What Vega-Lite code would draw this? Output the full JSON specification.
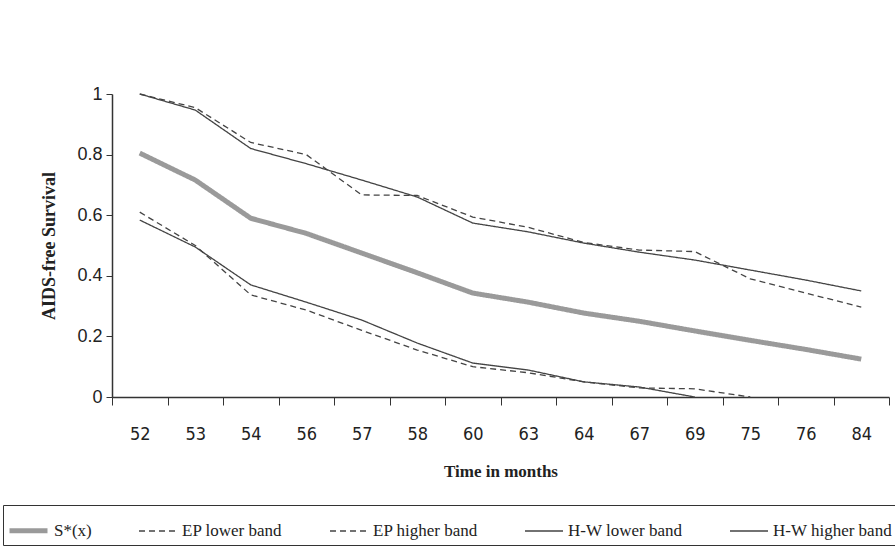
{
  "$schema": "https://vega.github.io/schema/vega-lite/v6.json",
  "autosize": "none",
  "width": 777,
  "height": 303,
  "padding": {"left": 112, "top": 94, "right": 6, "bottom": 163},
  "background": "white",
  "datasets": {
    "rows": [
      {"t": "52", "series": "S*(x)", "v": 0.805},
      {"t": "53", "series": "S*(x)", "v": 0.716},
      {"t": "54", "series": "S*(x)", "v": 0.59},
      {"t": "56", "series": "S*(x)", "v": 0.54},
      {"t": "57", "series": "S*(x)", "v": 0.475},
      {"t": "58", "series": "S*(x)", "v": 0.41},
      {"t": "60", "series": "S*(x)", "v": 0.343},
      {"t": "63", "series": "S*(x)", "v": 0.313},
      {"t": "64", "series": "S*(x)", "v": 0.277},
      {"t": "67", "series": "S*(x)", "v": 0.25},
      {"t": "69", "series": "S*(x)", "v": 0.218},
      {"t": "75", "series": "S*(x)", "v": 0.187},
      {"t": "76", "series": "S*(x)", "v": 0.157},
      {"t": "84", "series": "S*(x)", "v": 0.125},
      {"t": "52", "series": "EP lower band", "v": 0.61},
      {"t": "53", "series": "EP lower band", "v": 0.5},
      {"t": "54", "series": "EP lower band", "v": 0.337},
      {"t": "56", "series": "EP lower band", "v": 0.287},
      {"t": "57", "series": "EP lower band", "v": 0.22},
      {"t": "58", "series": "EP lower band", "v": 0.155},
      {"t": "60", "series": "EP lower band", "v": 0.1},
      {"t": "63", "series": "EP lower band", "v": 0.08},
      {"t": "64", "series": "EP lower band", "v": 0.05},
      {"t": "67", "series": "EP lower band", "v": 0.03},
      {"t": "69", "series": "EP lower band", "v": 0.027},
      {"t": "75", "series": "EP lower band", "v": 0.0},
      {"t": "52", "series": "EP higher band", "v": 1.0},
      {"t": "53", "series": "EP higher band", "v": 0.955},
      {"t": "54", "series": "EP higher band", "v": 0.84},
      {"t": "56", "series": "EP higher band", "v": 0.8},
      {"t": "57", "series": "EP higher band", "v": 0.667},
      {"t": "58", "series": "EP higher band", "v": 0.665},
      {"t": "60", "series": "EP higher band", "v": 0.594},
      {"t": "63", "series": "EP higher band", "v": 0.56},
      {"t": "64", "series": "EP higher band", "v": 0.51},
      {"t": "67", "series": "EP higher band", "v": 0.485},
      {"t": "69", "series": "EP higher band", "v": 0.48},
      {"t": "75", "series": "EP higher band", "v": 0.39},
      {"t": "76", "series": "EP higher band", "v": 0.343},
      {"t": "84", "series": "EP higher band", "v": 0.297},
      {"t": "52", "series": "H-W lower band", "v": 0.584},
      {"t": "53", "series": "H-W lower band", "v": 0.495},
      {"t": "54", "series": "H-W lower band", "v": 0.37},
      {"t": "56", "series": "H-W lower band", "v": 0.313},
      {"t": "57", "series": "H-W lower band", "v": 0.254},
      {"t": "58", "series": "H-W lower band", "v": 0.178},
      {"t": "60", "series": "H-W lower band", "v": 0.112},
      {"t": "63", "series": "H-W lower band", "v": 0.089},
      {"t": "64", "series": "H-W lower band", "v": 0.05},
      {"t": "67", "series": "H-W lower band", "v": 0.033},
      {"t": "69", "series": "H-W lower band", "v": 0.0},
      {"t": "52", "series": "H-W higher band", "v": 1.0},
      {"t": "53", "series": "H-W higher band", "v": 0.947},
      {"t": "54", "series": "H-W higher band", "v": 0.82},
      {"t": "56", "series": "H-W higher band", "v": 0.77},
      {"t": "57", "series": "H-W higher band", "v": 0.716},
      {"t": "58", "series": "H-W higher band", "v": 0.66},
      {"t": "60", "series": "H-W higher band", "v": 0.574},
      {"t": "63", "series": "H-W higher band", "v": 0.545},
      {"t": "64", "series": "H-W higher band", "v": 0.508},
      {"t": "67", "series": "H-W higher band", "v": 0.478},
      {"t": "69", "series": "H-W higher band", "v": 0.452},
      {"t": "75", "series": "H-W higher band", "v": 0.419},
      {"t": "76", "series": "H-W higher band", "v": 0.386},
      {"t": "84", "series": "H-W higher band", "v": 0.35}
    ]
  },
  "data": {"name": "rows"},
  "mark": {"type": "line", "interpolate": "linear"},
  "encoding": {
    "x": {
      "field": "t",
      "type": "ordinal",
      "sort": ["52","53","54","56","57","58","60","63","64","67","69","75","76","84"],
      "scale": {"type": "band", "paddingInner": 0, "paddingOuter": 0},
      "axis": {
        "title": "Time in months",
        "titleFont": "Liberation Serif",
        "titleFontSize": 17,
        "titleFontWeight": "bold",
        "titleColor": "#222",
        "titlePadding": 20,
        "labelFont": "Liberation Sans Narrow, DejaVu Sans Condensed, Liberation Sans",
        "labelFontSize": 18,
        "labelColor": "#222",
        "labelAngle": 0,
        "labelPadding": 20,
        "tickBand": "extent",
        "tickSize": 8,
        "tickColor": "#333",
        "domainColor": "#333",
        "domainWidth": 1.5,
        "grid": false
      }
    },
    "y": {
      "field": "v",
      "type": "quantitative",
      "scale": {"domain": [0, 1], "nice": false},
      "axis": {
        "title": "AIDS-free Survival",
        "titleFont": "Liberation Serif",
        "titleFontSize": 18,
        "titleFontWeight": "bold",
        "titleColor": "#222",
        "titlePadding": 18,
        "values": [0, 0.2, 0.4, 0.6, 0.8, 1],
        "labelExpr": "'' + datum.value",
        "labelFont": "Liberation Sans",
        "labelFontSize": 18,
        "labelColor": "#222",
        "labelPadding": 4,
        "tickSize": 6,
        "tickColor": "#333",
        "domainColor": "#333",
        "domainWidth": 1.5,
        "grid": false
      }
    },
    "color": {
      "field": "series",
      "type": "nominal",
      "sort": ["S*(x)", "EP lower band", "EP higher band", "H-W lower band", "H-W higher band"],
      "scale": {
        "domain": ["S*(x)", "EP lower band", "EP higher band", "H-W lower band", "H-W higher band"],
        "range": ["#9a9a9a", "#444444", "#444444", "#444444", "#444444"]
      },
      "legend": {
        "title": null,
        "orient": "none",
        "legendX": -109,
        "legendY": 411,
        "direction": "horizontal",
        "strokeColor": "#333",
        "padding": 4,
        "columnPadding": 44,
        "labelFont": "Liberation Serif",
        "labelFontSize": 17,
        "labelColor": "#222",
        "labelOffset": 4,
        "symbolType": "stroke",
        "symbolSize": 1444
      }
    },
    "strokeDash": {
      "field": "series",
      "type": "nominal",
      "sort": ["S*(x)", "EP lower band", "EP higher band", "H-W lower band", "H-W higher band"],
      "scale": {
        "domain": ["S*(x)", "EP lower band", "EP higher band", "H-W lower band", "H-W higher band"],
        "range": [[1, 0], [6, 4], [6, 4], [1, 0], [1, 0]]
      }
    },
    "strokeWidth": {
      "field": "series",
      "type": "nominal",
      "sort": ["S*(x)", "EP lower band", "EP higher band", "H-W lower band", "H-W higher band"],
      "scale": {
        "type": "ordinal",
        "domain": ["S*(x)", "EP lower band", "EP higher band", "H-W lower band", "H-W higher band"],
        "range": [5, 1.3, 1.3, 1.3, 1.3]
      }
    }
  },
  "config": {"view": {"stroke": null}}
}
